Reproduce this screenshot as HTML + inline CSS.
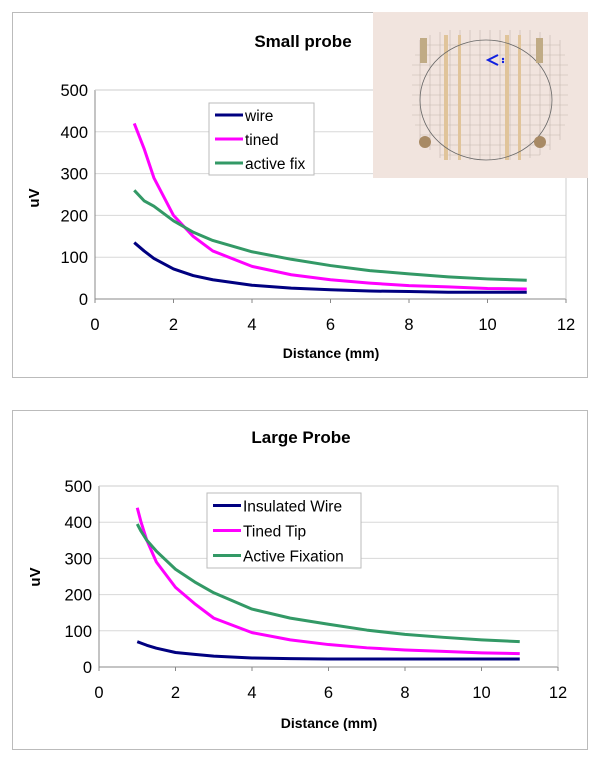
<!DOCTYPE html>
<html><head><meta charset="utf-8"><style>
body{margin:0;width:600px;height:768px;background:#fff;position:relative;overflow:hidden;font-family:"Liberation Sans",Arial,sans-serif}
svg{position:absolute;left:0;top:0}
</style></head><body>
<svg id="s" width="600" height="768">
 <rect x="12.5" y="12.5" width="575" height="365" fill="#fff" stroke="#bbb"/>
 <rect x="12.5" y="410.5" width="575" height="339" fill="#fff" stroke="#bbb"/>
</svg>
<svg width="600" height="768" style="pointer-events:none">
 <g>
  <rect x="373" y="12" width="215" height="166" fill="#f1e4de"/>
  <g stroke="#b8ada2" stroke-width="0.6" opacity="0.8">
   <path d="M420 45H560M415 55H565M412 65H568M412 75H568M412 85H568M412 95H568M412 105H568M412 115H568M415 125H565M420 135H560M430 145H550M440 155H540"/>
   <path d="M420 40V140M430 35V150M440 32V158M450 30V160M460 30V160M470 30V160M480 30V160M490 30V160M500 30V160M510 30V160M520 30V160M530 30V158M540 32V155M550 35V150M560 40V140"/>
  </g>
  <rect x="444" y="35" width="4" height="125" fill="#e0c49a"/>
  <rect x="458" y="35" width="3" height="125" fill="#e0c49a"/>
  <rect x="505" y="35" width="4" height="125" fill="#e0c49a"/>
  <rect x="518" y="35" width="3" height="125" fill="#e0c49a"/>
  <ellipse cx="486" cy="100" rx="66" ry="60" fill="none" stroke="#666" stroke-width="0.8"/>
  <rect x="420" y="38" width="7" height="25" fill="#c0ab85"/>
  <rect x="536" y="38" width="7" height="25" fill="#c0ab85"/>
  <circle cx="425" cy="142" r="6" fill="#a88a65"/>
  <circle cx="540" cy="142" r="6" fill="#a88a65"/>
  <path d="M498 55L488 60L498 65" fill="none" stroke="#1020e0" stroke-width="2"/>
  <circle cx="503" cy="59" r="1.2" fill="#1020e0"/><circle cx="503" cy="62" r="1.2" fill="#1020e0"/>
 </g>
</svg>
<script>
const smallX=[1,1.25,1.5,2,2.5,3,4,5,6,7,8,9,10,11];
const smallWire=[135,115,97,72,56,46,33,26,22,19,18,16,16,16];
const smallTined=[420,360,290,200,150,115,78,58,46,38,32,29,25,24];
const smallActive=[260,235,222,187,160,140,113,95,80,68,60,53,48,45];
const largeX=[1,1.1,1.25,1.5,2,2.5,3,4,5,6,7,8,9,10,11];
const largeWire=[70,66,60,52,40,35,30,25,23,22,22,22,22,22,22];
const largeTined=[440,400,350,290,220,175,135,95,75,62,53,47,43,39,37];
const largeActive=[395,375,350,320,270,235,205,160,135,118,102,90,82,75,70];
const xTicks=[0,2,4,6,8,10,12];
const yTicks=[0,100,200,300,400,500];
const NS="http://www.w3.org/2000/svg";
const svg=document.getElementById('s');
function el(t,a,txt){const e=document.createElementNS(NS,t);for(const k in a)e.setAttribute(k,a[k]);if(txt!==undefined)e.textContent=txt;svg.appendChild(e);return e;}
function chart(c){
 const sx=v=>c.x0+(c.x1-c.x0)*v/12, sy=v=>c.y0-(c.y0-c.y1)*v/500;
 yTicks.forEach(t=>{
  if(t>0){const g=el('line',{x1:c.x0,x2:c.x1,y1:sy(t),y2:sy(t),stroke:'#d8d8d8'});
  
  }
  const l=el('text',{x:c.x0-7,y:sy(t)+6,'text-anchor':'end','font-size':'16.5',fill:'#000'},t);
  
  
 });
 xTicks.forEach(t=>{
  const k=el('line',{x1:sx(t),x2:sx(t),y1:c.y0,y2:c.y0+4,stroke:'#888'});
  
  
  const l=el('text',{x:sx(t),y:c.y0+31,'text-anchor':'middle','font-size':'16.5',fill:'#000'},t);
  
  
 });
 const ax=el('path',{d:`M${c.x0} ${c.y1}V${c.y0}H${c.x1}`,fill:'none',stroke:'#888'});
 
 
 const fr=el('path',{d:`M${c.x0} ${c.y1}H${c.x1}V${c.y0}`,fill:'none',stroke:'#ccc'});
 
 
 c.series.forEach(s=>{
  const p=el('polyline',{points:c.xs.map((x,i)=>sx(x)+','+sy(s.v[i])).join(' '),fill:'none',stroke:s.col,'stroke-width':3,'stroke-linejoin':'round'});
  
  
 });
 const t=el('text',{x:c.tx,y:c.ty,'text-anchor':'middle','font-size':'17','font-weight':'bold'},c.title);
 
 
 const xt=el('text',{x:c.xtx,y:c.xty,'text-anchor':'middle','font-size':'14','font-weight':'bold'},'Distance (mm)');
 
 
 const yt=el('text',{x:0,y:0,'text-anchor':'middle','font-size':'15','font-weight':'bold',transform:`translate(${c.ytx+5},${c.yty}) rotate(-90)`},'uV');
 
 
 const lg=el('rect',{x:c.lx,y:c.ly,width:c.lw,height:c.lh,fill:'#fff',stroke:'#bbb'});
 
 
 c.series.forEach((s,i)=>{
  const yy=c.ly+c.lh*(i+0.5)/3;
  const ln=el('line',{x1:c.lx+6,x2:c.lx+34,y1:yy,y2:yy,stroke:s.col,'stroke-width':3});
  
  
  const tx=el('text',{x:c.lx+36,y:yy+6,'font-size':'15.5'},s.name);
  
  
 });
}
chart({x0:95,x1:566,y0:299,y1:90,xs:smallX,title:'Small probe',tx:303,ty:47,xtx:331,xty:358,ytx:34,yty:198,
 lx:209,ly:103,lw:105,lh:72,
 series:[{id:'wire',name:'wire',col:'#000080',v:smallWire},{id:'tined',name:'tined',col:'#ff00ff',v:smallTined},{id:'active-fix',name:'active fix',col:'#339966',v:smallActive}]});
chart({x0:99,x1:558,y0:667,y1:486,xs:largeX,title:'Large Probe',tx:301,ty:443,xtx:329,xty:728,ytx:35,yty:577,
 lx:207,ly:493,lw:154,lh:75,
 series:[{id:'insulated-wire',name:'Insulated Wire',col:'#000080',v:largeWire},{id:'tined-tip',name:'Tined Tip',col:'#ff00ff',v:largeTined},{id:'active-fixation',name:'Active Fixation',col:'#339966',v:largeActive}]});
</script>
</body></html>
